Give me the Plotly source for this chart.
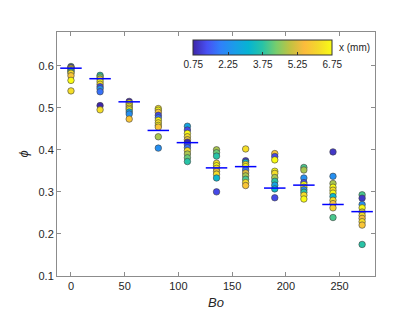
import plotly.graph_objects as go

# Bo value of each group
bo = [0, 27.1, 54.2, 81.3, 108.4, 135.5, 162.6, 189.7, 216.8, 243.9, 271]

# phi of every sample, one list per Bo group
phi = [
    [0.598, 0.596, 0.594, 0.591, 0.588, 0.585, 0.582, 0.576, 0.565, 0.540],
    [0.577, 0.573, 0.568, 0.562, 0.556, 0.550, 0.545, 0.538, 0.505, 0.495],
    [0.515, 0.511, 0.507, 0.503, 0.499, 0.495, 0.490, 0.485, 0.473],
    [0.498, 0.494, 0.489, 0.482, 0.476, 0.470, 0.464, 0.458, 0.454, 0.431, 0.404],
    [0.456, 0.447, 0.439, 0.431, 0.424, 0.418, 0.412, 0.405, 0.398, 0.390, 0.381, 0.372],
    [0.400, 0.393, 0.385, 0.368, 0.362, 0.356, 0.349, 0.342, 0.333, 0.300],
    [0.402, 0.374, 0.370, 0.365, 0.360, 0.352, 0.345, 0.338, 0.330, 0.322, 0.315],
    [0.391, 0.384, 0.376, 0.349, 0.344, 0.334, 0.325, 0.316, 0.307, 0.286],
    [0.358, 0.352, 0.333, 0.322, 0.317, 0.311, 0.305, 0.299, 0.292, 0.283],
    [0.395, 0.337, 0.320, 0.311, 0.304, 0.297, 0.289, 0.280, 0.272, 0.262, 0.239],
    [0.293, 0.285, 0.270, 0.262, 0.252, 0.244, 0.237, 0.229, 0.221, 0.175],
]

# position x (mm) of every sample -> marker colour
x_mm = [
    [4.25, 1.25, 5.25, 6.75, 2.25, 3.75, 6.25, 5.75, 6.75, 6.25],
    [3.75, 4.25, 5.25, 6.75, 6.25, 1.25, 2.25, 1.75, 0.75, 6.25],
    [0.75, 6.75, 6.25, 6.75, 5.25, 6.75, 2.75, 2.25, 5.75],
    [6.25, 6.75, 5.75, 1.25, 1.75, 6.75, 6.25, 6.75, 5.75, 4.75, 2.25],
    [2.75, 1.25, 6.75, 6.25, 5.25, 0.75, 1.25, 1.75, 6.25, 4.75, 4.25, 3.75],
    [4.75, 4.25, 3.75, 6.25, 6.75, 6.25, 5.25, 6.25, 3.25, 1.25],
    [6.25, 1.0, 3.25, 6.25, 6.75, 1.75, 5.25, 4.75, 4.0, 6.25, 5.75],
    [5.75, 1.25, 6.75, 6.75, 6.25, 4.75, 3.75, 2.75, 3.25, 1.25],
    [4.0, 4.75, 2.25, 1.25, 6.75, 6.25, 2.25, 3.75, 6.25, 6.75],
    [1.0, 2.25, 4.75, 6.75, 6.25, 6.75, 3.25, 6.25, 5.75, 6.0, 4.0],
    [4.0, 1.0, 2.25, 6.75, 5.0, 6.25, 5.5, 6.25, 5.75, 3.75],
]

# median phi per group (blue bars)
median_phi = [0.594, 0.569, 0.514, 0.446, 0.417, 0.357, 0.360, 0.309, 0.316, 0.270, 0.253]

# approximate MATLAB parula
PARULA = [
    [0.0, "#3e26a8"], [0.1, "#4750f3"], [0.2, "#2f81fa"], [0.3, "#1a9de8"],
    [0.4, "#06b4d2"], [0.5, "#28c3a6"], [0.6, "#78cd6c"], [0.7, "#c2c241"],
    [0.8, "#fbbb3d"], [0.9, "#f4d82b"], [1.0, "#f9fb15"],
]

xs, ys, cs = [], [], []
for b, p, c in zip(bo, phi, x_mm):
    xs += [b] * len(p)
    ys += p
    cs += c

mx, my = [], []
for b, m in zip(bo, median_phi):
    mx += [b - 10, b + 10, None]
    my += [m, m, None]

AX = "#8c8c8c"
fig = go.Figure()
fig.add_trace(go.Scatter(
    x=xs, y=ys, mode="markers", showlegend=False,
    marker=dict(
        size=6.5, color=cs, colorscale=PARULA, cmin=0.75, cmax=6.75,
        line=dict(color="#404040", width=0.6),
        colorbar=dict(
            orientation="h", x=0.4286, xanchor="left", y=0.896, yanchor="middle",
            len=139, lenmode="pixels", thickness=15, xpad=0, ypad=0,
            outlinecolor="#333333", outlinewidth=1,
            tickvals=[0.75, 2.25, 3.75, 5.25, 6.75],
            ticktext=["0.75", "2.25", "3.75", "5.25", "6.75"],
            ticks="inside", ticklen=3, tickcolor="#333333", tickangle=0,
            tickfont=dict(size=10, color="#262626"),
        ),
    ),
))
fig.add_trace(go.Scatter(
    x=mx, y=my, mode="lines", showlegend=False,
    line=dict(color="#0000ff", width=1.5),
))
fig.add_annotation(
    text="x (mm)", xref="paper", yref="paper", x=0.882, y=0.937,
    xanchor="left", yanchor="middle", showarrow=False,
    font=dict(size=10, color="#262626"),
)

# page body adds an 8px offset, so margins are shifted to compensate
fig.update_layout(
    width=419, height=328,
    margin=dict(l=49, r=52, t=24, b=60, autoexpand=False),
    paper_bgcolor="white", plot_bgcolor="white",
    font=dict(family="Liberation Sans, Arial, sans-serif", color="#262626"),
)
fig.update_xaxes(
    range=[-13, 283], tickvals=[0, 50, 100, 150, 200, 250],
    showline=True, linecolor=AX, linewidth=1, mirror="ticks",
    ticks="inside", ticklen=4, tickcolor=AX, showgrid=False, zeroline=False,
    tickfont=dict(size=11),
    title=dict(text="<i>Bo</i>", font=dict(size=13), standoff=6),
)
fig.update_yaxes(
    range=[0.1, 0.68], tickvals=[0.1, 0.2, 0.3, 0.4, 0.5, 0.6],
    ticktext=["0.1", "0.2", "0.3", "0.4", "0.5", "0.6"],
    showline=True, linecolor=AX, linewidth=1, mirror="ticks",
    ticks="inside", ticklen=4, tickcolor=AX, showgrid=False, zeroline=False,
    tickfont=dict(size=11),
    title=dict(text="<i>ϕ</i>", font=dict(size=13), standoff=6),
)

fig.write_html("out.html")
